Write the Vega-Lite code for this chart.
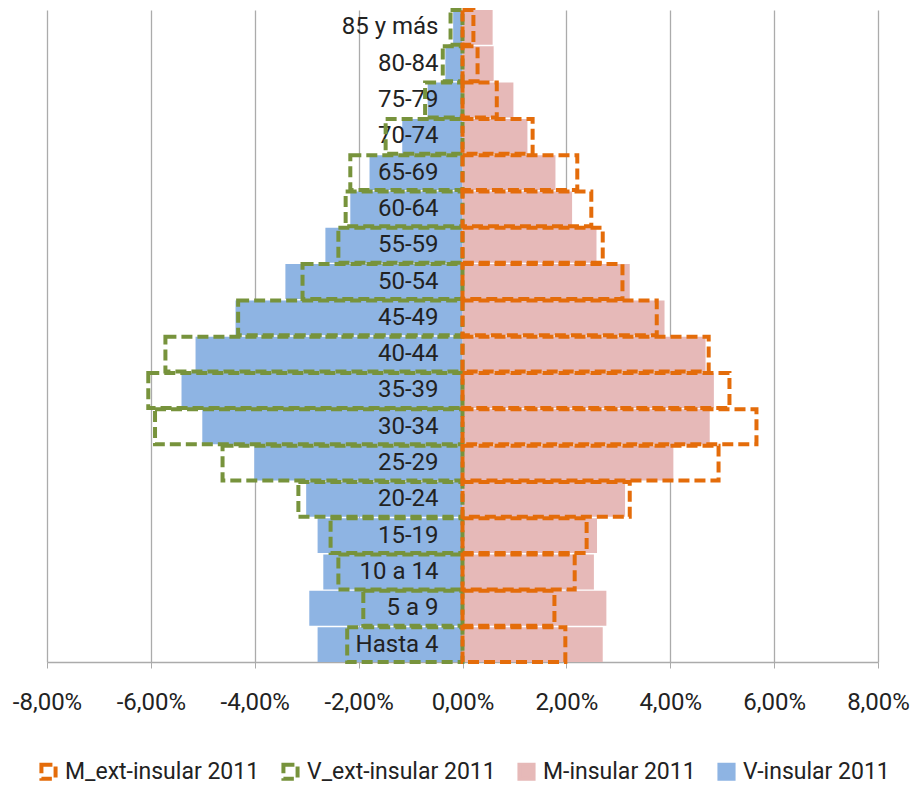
{
  "$schema": "https://vega.github.io/schema/vega-lite/v6.json",
  "width": 831,
  "height": 652,
  "autosize": {"type": "none"},
  "padding": {"left": 47, "top": 10, "right": 36, "bottom": 123},
  "config": {
    "locale": {"number": {"decimal": ",", "thousands": ".", "grouping": [3], "currency": ["", " €"], "minus": "-"}},
    "view": {"stroke": null},
    "font": "Roboto",
    "axisX": {
      "format": ".2%",
      "labelFontSize": 24,
      "labelColor": "#222222",
      "labelFont": "Roboto",
      "grid": true,
      "gridColor": "#ABABAB",
      "gridWidth": 1.3,
      "domainColor": "#ABABAB",
      "domainWidth": 1.5,
      "tickColor": "#ABABAB",
      "tickSize": 6,
      "labelPadding": 22,
      "labelOverlap": false,
      "labelBound": false,
      "labelFlush": false,
      "title": null
    }
  },
  "data": {
    "values": [
      {"age": "85 y más", "series": "V-insular 2011", "v": -0.0018},
      {"age": "80-84", "series": "V-insular 2011", "v": -0.0033},
      {"age": "75-79", "series": "V-insular 2011", "v": -0.0067},
      {"age": "70-74", "series": "V-insular 2011", "v": -0.0116},
      {"age": "65-69", "series": "V-insular 2011", "v": -0.0179},
      {"age": "60-64", "series": "V-insular 2011", "v": -0.0216},
      {"age": "55-59", "series": "V-insular 2011", "v": -0.0264},
      {"age": "50-54", "series": "V-insular 2011", "v": -0.0341},
      {"age": "45-49", "series": "V-insular 2011", "v": -0.0437},
      {"age": "40-44", "series": "V-insular 2011", "v": -0.0514},
      {"age": "35-39", "series": "V-insular 2011", "v": -0.0541},
      {"age": "30-34", "series": "V-insular 2011", "v": -0.0501},
      {"age": "25-29", "series": "V-insular 2011", "v": -0.0401},
      {"age": "20-24", "series": "V-insular 2011", "v": -0.0301},
      {"age": "15-19", "series": "V-insular 2011", "v": -0.0279},
      {"age": "10 a 14", "series": "V-insular 2011", "v": -0.0268},
      {"age": "5 a 9", "series": "V-insular 2011", "v": -0.0295},
      {"age": "Hasta 4", "series": "V-insular 2011", "v": -0.0279},

      {"age": "85 y más", "series": "M-insular 2011", "v": 0.0058},
      {"age": "80-84", "series": "M-insular 2011", "v": 0.0060},
      {"age": "75-79", "series": "M-insular 2011", "v": 0.0098},
      {"age": "70-74", "series": "M-insular 2011", "v": 0.0125},
      {"age": "65-69", "series": "M-insular 2011", "v": 0.0179},
      {"age": "60-64", "series": "M-insular 2011", "v": 0.0211},
      {"age": "55-59", "series": "M-insular 2011", "v": 0.0258},
      {"age": "50-54", "series": "M-insular 2011", "v": 0.0322},
      {"age": "45-49", "series": "M-insular 2011", "v": 0.0389},
      {"age": "40-44", "series": "M-insular 2011", "v": 0.0468},
      {"age": "35-39", "series": "M-insular 2011", "v": 0.0484},
      {"age": "30-34", "series": "M-insular 2011", "v": 0.0476},
      {"age": "25-29", "series": "M-insular 2011", "v": 0.0406},
      {"age": "20-24", "series": "M-insular 2011", "v": 0.0313},
      {"age": "15-19", "series": "M-insular 2011", "v": 0.0259},
      {"age": "10 a 14", "series": "M-insular 2011", "v": 0.0253},
      {"age": "5 a 9", "series": "M-insular 2011", "v": 0.0277},
      {"age": "Hasta 4", "series": "M-insular 2011", "v": 0.0270},

      {"age": "85 y más", "series": "V_ext-insular 2011", "v": -0.0023},
      {"age": "80-84", "series": "V_ext-insular 2011", "v": -0.0038},
      {"age": "75-79", "series": "V_ext-insular 2011", "v": -0.0072},
      {"age": "70-74", "series": "V_ext-insular 2011", "v": -0.0148},
      {"age": "65-69", "series": "V_ext-insular 2011", "v": -0.0216},
      {"age": "60-64", "series": "V_ext-insular 2011", "v": -0.0225},
      {"age": "55-59", "series": "V_ext-insular 2011", "v": -0.0239},
      {"age": "50-54", "series": "V_ext-insular 2011", "v": -0.0308},
      {"age": "45-49", "series": "V_ext-insular 2011", "v": -0.0432},
      {"age": "40-44", "series": "V_ext-insular 2011", "v": -0.0572},
      {"age": "35-39", "series": "V_ext-insular 2011", "v": -0.0605},
      {"age": "30-34", "series": "V_ext-insular 2011", "v": -0.0592},
      {"age": "25-29", "series": "V_ext-insular 2011", "v": -0.0462},
      {"age": "20-24", "series": "V_ext-insular 2011", "v": -0.0316},
      {"age": "15-19", "series": "V_ext-insular 2011", "v": -0.0254},
      {"age": "10 a 14", "series": "V_ext-insular 2011", "v": -0.0239},
      {"age": "5 a 9", "series": "V_ext-insular 2011", "v": -0.0191},
      {"age": "Hasta 4", "series": "V_ext-insular 2011", "v": -0.0222},

      {"age": "85 y más", "series": "M_ext-insular 2011", "v": 0.0021},
      {"age": "80-84", "series": "M_ext-insular 2011", "v": 0.0029},
      {"age": "75-79", "series": "M_ext-insular 2011", "v": 0.0066},
      {"age": "70-74", "series": "M_ext-insular 2011", "v": 0.0135},
      {"age": "65-69", "series": "M_ext-insular 2011", "v": 0.0221},
      {"age": "60-64", "series": "M_ext-insular 2011", "v": 0.0248},
      {"age": "55-59", "series": "M_ext-insular 2011", "v": 0.0270},
      {"age": "50-54", "series": "M_ext-insular 2011", "v": 0.0308},
      {"age": "45-49", "series": "M_ext-insular 2011", "v": 0.0374},
      {"age": "40-44", "series": "M_ext-insular 2011", "v": 0.0474},
      {"age": "35-39", "series": "M_ext-insular 2011", "v": 0.0514},
      {"age": "30-34", "series": "M_ext-insular 2011", "v": 0.0566},
      {"age": "25-29", "series": "M_ext-insular 2011", "v": 0.0493},
      {"age": "20-24", "series": "M_ext-insular 2011", "v": 0.0322},
      {"age": "15-19", "series": "M_ext-insular 2011", "v": 0.0239},
      {"age": "10 a 14", "series": "M_ext-insular 2011", "v": 0.0216},
      {"age": "5 a 9", "series": "M_ext-insular 2011", "v": 0.0177},
      {"age": "Hasta 4", "series": "M_ext-insular 2011", "v": 0.0198}
    ]
  },
  "encoding": {
    "y": {
      "field": "age",
      "type": "nominal",
      "scale": {
        "domain": ["85 y más", "80-84", "75-79", "70-74", "65-69", "60-64", "55-59", "50-54", "45-49", "40-44", "35-39", "30-34", "25-29", "20-24", "15-19", "10 a 14", "5 a 9", "Hasta 4"],
        "paddingInner": 0.04,
        "paddingOuter": 0
      },
      "axis": null
    }
  },
  "layer": [
    {
      "transform": [{"filter": "indexof(datum.series, '_ext') < 0"}],
      "mark": {"type": "bar", "strokeWidth": 0},
      "encoding": {
        "x": {
          "field": "v", "type": "quantitative", "stack": null,
          "scale": {"domain": [-0.08, 0.08], "nice": false},
          "title": null,
          "axis": {"values": [-0.08, -0.06, -0.04, -0.02, 0, 0.02, 0.04, 0.06, 0.08], "format": ".2%", "title": null}
        },
        "fill": {
          "field": "series", "type": "nominal",
          "scale": {"domain": ["M_ext-insular 2011", "V_ext-insular 2011", "M-insular 2011", "V-insular 2011"], "range": ["transparent", "transparent", "#E6B9B8", "#8EB4E3"]},
          "legend": {"orient": "none", "legendX": -10, "legendY": 750, "direction": "horizontal", "title": null, "symbolType": "square", "symbolSize": 200, "symbolStrokeWidth": 4, "labelFontSize": 23, "labelFont": "Roboto", "labelColor": "#222222", "labelLimit": 400, "columnPadding": 15, "labelOffset": 5, "padding": 0}
        },
        "stroke": {
          "field": "series", "type": "nominal",
          "scale": {"domain": ["M_ext-insular 2011", "V_ext-insular 2011", "M-insular 2011", "V-insular 2011"], "range": ["#E46C0A", "#77933C", "#E6B9B8", "#8EB4E3"]},
          "legend": {"orient": "none", "legendX": -10, "legendY": 750, "direction": "horizontal", "title": null, "symbolType": "square", "symbolSize": 200, "symbolStrokeWidth": 4, "labelFontSize": 23, "labelFont": "Roboto", "labelColor": "#222222", "labelLimit": 400, "columnPadding": 15, "labelOffset": 5, "padding": 0}
        },
        "strokeDash": {
          "field": "series", "type": "nominal",
          "scale": {"domain": ["M_ext-insular 2011", "V_ext-insular 2011", "M-insular 2011", "V-insular 2011"], "range": [[11, 5], [11, 5], [1, 0], [1, 0]]},
          "legend": {"orient": "none", "legendX": -10, "legendY": 750, "direction": "horizontal", "title": null, "symbolType": "square", "symbolSize": 200, "symbolStrokeWidth": 4, "labelFontSize": 23, "labelFont": "Roboto", "labelColor": "#222222", "labelLimit": 400, "columnPadding": 15, "labelOffset": 5, "padding": 0}
        }
      }
    },
    {
      "transform": [{"filter": "indexof(datum.series, '_ext') >= 0"}],
      "mark": {"type": "text", "align": "right", "baseline": "middle", "dx": -24, "fontSize": 24, "font": "Roboto", "color": "#222222"},
      "encoding": {
        "x": {"datum": 0, "type": "quantitative", "title": null},
        "text": {"field": "age"},
        "opacity": {"condition": {"test": "datum.series == 'V_ext-insular 2011'", "value": 1}, "value": 0}
      }
    },
    {
      "transform": [{"filter": "indexof(datum.series, '_ext') >= 0"}],
      "mark": {"type": "bar", "strokeWidth": 4},
      "encoding": {
        "x": {"field": "v", "type": "quantitative", "stack": null, "title": null},
        "fill": {"field": "series", "type": "nominal"},
        "stroke": {"field": "series", "type": "nominal"},
        "strokeDash": {"field": "series", "type": "nominal"}
      }
    }
  ]
}
